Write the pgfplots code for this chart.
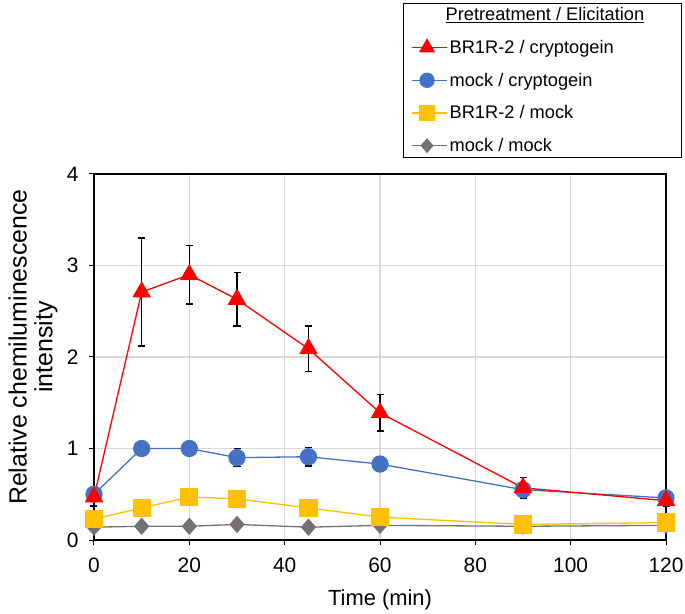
\documentclass[border=0pt]{standalone}
\usepackage{pgfplots}
\pgfplotsset{compat=1.18}
\usepackage{fontspec}
\setmainfont{Liberation Sans}
\definecolor{cred}{HTML}{FF0000}
\definecolor{cblue}{HTML}{4472C4}
\definecolor{cyel}{HTML}{FFC000}
\definecolor{cgray}{HTML}{767171}
\definecolor{cgrid}{HTML}{D9D9D9}
\begin{document}
\begin{tikzpicture}[x=1bp,y=1bp]
\useasboundingbox (-94bp,-74bp) rectangle (591bp,540bp);
\begin{axis}[
  at={(0,0)}, anchor=south west,
  scale only axis, width=572bp, height=366bp,
  xmin=0, xmax=120, ymin=0, ymax=4,
  xtick={0,20,...,120}, ytick={0,1,2,3,4},
  grid=major, major grid style={cgrid, line width=1.2bp},
  axis line style={black, line width=1.4bp},
  tick align=outside, tick pos=left, major tick length=5bp,
  tick style={black, line width=1bp},
  /pgf/number format/assume math mode=true,
  tick label style={font=\fontsize{21}{24}\selectfont},
  xticklabel style={yshift=-9bp},
  yticklabel style={xshift=-7bp},
  xlabel={Time (min)},
  ylabel={Relative chemiluminescence\\intensity},
  xlabel style={font=\fontsize{22}{25}\selectfont, at={(axis description cs:0.5,-0.180)}, anchor=base},
  ylabel style={font=\fontsize{25}{26}\selectfont, align=center, at={(axis description cs:-0.1066,0.527)}, anchor=center},
  clip=false,
  legend style={at={(0.540,1.467)}, anchor=north west, draw=black, line width=1bp,
    font=\fontsize{18.3}{21}\selectfont, row sep=14bp, inner xsep=8bp, inner ysep=2bp,
    legend cell align=left},
  legend image code/.code={\draw[#1, line width=1.3bp] (0bp,0bp) -- (30bp,0bp);
     \draw[#1, line width=1.3bp] plot coordinates {(15bp,0bp)};
     \path (0bp,0bp) -- (35bp,0bp);},
  every axis plot/.append style={line width=1.3bp},
  error bars/error bar style={black, line width=1.3bp},
  error bars/error mark options={black, rotate=90, mark size=3.5bp, line width=1.3bp},
]
\addlegendimage{empty legend}
\addlegendentry{\hspace{-4bp}\makebox[226bp][l]{\underline{Pretreatment / Elicitation}}}
\addlegendimage{cred, mark=triangle*, mark size=8bp, mark options={fill=cred}}
\addlegendentry{BR1R-2 / cryptogein}
\addlegendimage{cblue, mark=*, mark size=7bp, mark options={fill=cblue}}
\addlegendentry{mock / cryptogein}
\addlegendimage{cyel, mark=square*, mark size=7bp, mark options={fill=cyel}}
\addlegendentry{BR1R-2 / mock}
\addlegendimage{cgray, mark=diamond*, mark size=6.5bp, mark options={fill=cgray, xscale=1.17}}
\addlegendentry{mock / mock}

\addplot[forget plot, cgray, mark=diamond*, mark size=7.7bp, mark options={fill=cgray, xscale=1.17}]
 coordinates {(0,0.14) (10,0.15) (20,0.15) (30,0.17) (45,0.14) (60,0.16) (90,0.15) (120,0.16)};
\addplot[forget plot, cyel, mark=square*, mark size=8.5bp, mark options={fill=cyel}]
 coordinates {(0,0.23) (10,0.35) (20,0.47) (30,0.45) (45,0.35) (60,0.25) (90,0.17) (120,0.19)};
\addplot[forget plot, cblue, mark=*, mark size=8bp, mark options={fill=cblue},
  error bars/.cd, y dir=both, y explicit]
 coordinates {(0,0.50) +- (0,0.04) (10,1.00) +- (0,0.02) (20,1.00) +- (0,0.02) (30,0.90) +- (0,0.10)
  (45,0.91) +- (0,0.10) (60,0.83) +- (0,0.03) (90,0.55) +- (0,0.05) (120,0.46) +- (0,0.04)};
\addplot[forget plot, cred, mark=triangle*, mark size=9.5bp, mark options={fill=cred},
  error bars/.cd, y dir=both, y explicit]
 coordinates {(0,0.47) +- (0,0.10) (10,2.71) +- (0,0.59) (20,2.90) +- (0,0.32) (30,2.63) +- (0,0.29)
  (45,2.09) +- (0,0.25) (60,1.39) +- (0,0.20) (90,0.57) +- (0,0.11) (120,0.43) +- (0,0.06)};
\end{axis}
\end{tikzpicture}
\end{document}
